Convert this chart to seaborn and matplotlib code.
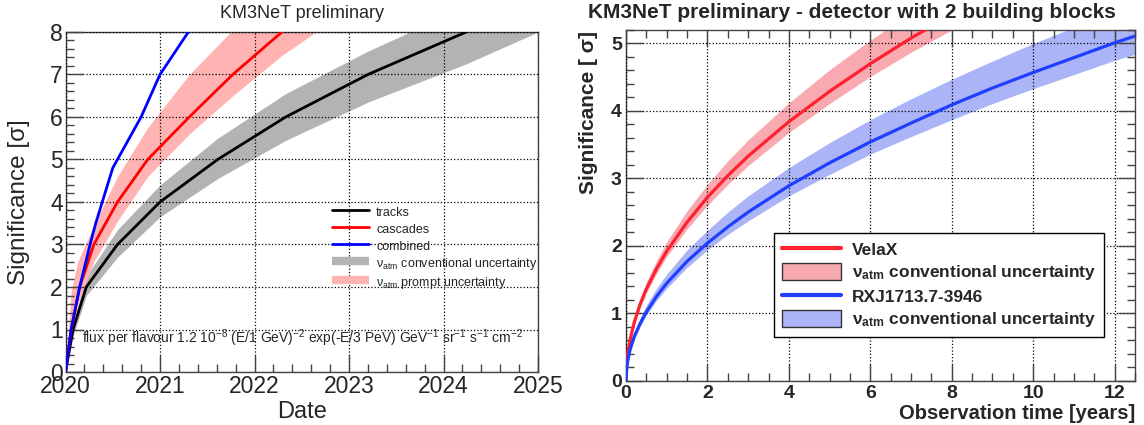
import matplotlib
matplotlib.use("Agg")
import matplotlib.pyplot as plt
from matplotlib.lines import Line2D
from matplotlib.patches import Patch
from matplotlib.ticker import MultipleLocator, FixedLocator
import seaborn as sns

# ---- left panel: significance vs date ----
tracks_year = [2020.0, 2020.08, 2020.22, 2020.55, 2021.0, 2021.61, 2022.33, 2023.2, 2024.24]
tracks_sig = [0, 1, 2, 3, 4, 5, 6, 7, 8]
tracks_band_year = [2020.0, 2020.08, 2020.22, 2020.55, 2021.0, 2021.61, 2022.33, 2023.2, 2024.24, 2025.0]
tracks_band_hi = [0, 1.15, 2.25, 3.35, 4.4, 5.5, 6.55, 7.55, 8.6, 9.2]
tracks_band_lo = [0, 0.85, 1.8, 2.7, 3.65, 4.55, 5.45, 6.35, 7.25, 8.0]

cascades_year = [2020.0, 2020.06, 2020.15, 2020.30, 2020.55, 2020.87, 2021.31, 2021.77, 2022.29]
cascades_sig = [0, 1, 2, 3, 4, 5, 6, 7, 8]
cascades_band_year = [2020.0, 2020.06, 2020.13, 2020.30, 2020.55, 2020.87, 2021.31, 2021.77, 2022.29, 2022.65]
cascades_band_hi = [0, 1.9, 2.6, 3.45, 4.6, 5.75, 7.0, 8.05, 9.0, 9.5]
cascades_band_lo = [0, 0.75, 1.6, 2.6, 3.55, 4.6, 5.6, 6.5, 7.45, 8.0]

combined_year = [2020.0, 2020.06, 2020.15, 2020.26, 2020.32, 2020.50, 2020.80, 2021.0, 2021.30]
combined_sig = [0, 1, 2, 3, 3.5, 4.8, 6, 7, 8]

years = [2020, 2021, 2022, 2023, 2024, 2025]

# ---- right panel: significance vs observation time ----
obs_t = [0, 0.02, 0.05, 0.1, 0.2, 0.35, 0.5, 0.75, 1, 1.5, 2, 2.5, 3, 4, 5, 6, 7, 8, 8.5]
velax = [0, 0.27, 0.43, 0.61, 0.86, 1.14, 1.36, 1.66, 1.92, 2.35, 2.72, 3.04, 3.33, 3.84, 4.29, 4.70, 5.08, 5.43, 5.60]
velax_hi = [0, 0.29, 0.46, 0.65, 0.92, 1.22, 1.46, 1.78, 2.06, 2.52, 2.91, 3.26, 3.57, 4.12, 4.61, 5.05, 5.45, 5.83, 6.01]
velax_lo = [0, 0.26, 0.41, 0.58, 0.82, 1.09, 1.30, 1.59, 1.84, 2.25, 2.60, 2.91, 3.19, 3.68, 4.11, 4.51, 4.87, 5.20, 5.36]

rxj_t = [0, 0.02, 0.05, 0.1, 0.2, 0.35, 0.5, 0.75, 1, 1.5, 2, 2.5, 3, 4, 5, 6, 7, 8, 9, 10, 11, 12, 12.5]
rxj = [0, 0.20, 0.32, 0.46, 0.65, 0.85, 1.02, 1.25, 1.445, 1.77, 2.04, 2.28, 2.50, 2.89, 3.23, 3.54, 3.82, 4.09, 4.34, 4.57, 4.79, 5.01, 5.11]
rxj_hi = [0, 0.22, 0.35, 0.50, 0.71, 0.93, 1.12, 1.37, 1.58, 1.94, 2.23, 2.50, 2.74, 3.16, 3.53, 3.87, 4.18, 4.47, 4.74, 5.00, 5.24, 5.47, 5.59]
rxj_lo = [0, 0.19, 0.31, 0.43, 0.61, 0.81, 0.97, 1.19, 1.37, 1.68, 1.94, 2.17, 2.37, 2.74, 3.06, 3.36, 3.62, 3.87, 4.11, 4.33, 4.54, 4.75, 4.84]

sns.set_theme(style="white")
plt.rcParams["font.family"] = ["Liberation Sans", "DejaVu Sans"]
plt.rcParams["mathtext.fontset"] = "custom"
plt.rcParams["mathtext.rm"] = "Liberation Sans"
plt.rcParams["mathtext.it"] = "Liberation Sans:italic"
plt.rcParams["mathtext.bf"] = "Liberation Sans:bold"

fig = plt.figure(figsize=(11.44, 4.25), dpi=100)
W, H = 1144, 425

ax1 = fig.add_axes([65.5 / W, 1 - 372 / H, (538 - 65.5) / W, (372 - 32) / H])
ax2 = fig.add_axes([626 / W, 1 - 380.7 / H, (1135 - 626) / W, (380.7 - 30) / H])

frame_col = "#444444"

# left panel
ax1.fill_between(tracks_band_year, tracks_band_lo, tracks_band_hi, color="#b3b3b3", lw=0, zorder=1)
ax1.fill_between(cascades_band_year, cascades_band_lo, cascades_band_hi, color="#ffb3b3", lw=0, zorder=1)
sns.lineplot(x=tracks_year, y=tracks_sig, ax=ax1, color="black", lw=2, estimator=None, sort=False, zorder=3)
sns.lineplot(x=cascades_year, y=cascades_sig, ax=ax1, color="#ff0000", lw=2, estimator=None, sort=False, zorder=3)
sns.lineplot(x=combined_year, y=combined_sig, ax=ax1, color="#0000ff", lw=2, estimator=None, sort=False, zorder=3)

ax1.set_xlim(2020, 2025)
ax1.set_ylim(0, 8)
ax1.xaxis.set_major_locator(FixedLocator(years))
ax1.set_xticklabels([str(y) for y in years])
ax1.xaxis.set_minor_locator(MultipleLocator(0.2))
ax1.yaxis.set_major_locator(MultipleLocator(1))
ax1.yaxis.set_minor_locator(MultipleLocator(0.2))
ax1.tick_params(which="both", direction="in", top=False, right=False, left=True, bottom=True,
                color=frame_col, labelsize=16.5)
ax1.tick_params(which="major", length=12, width=1, pad=2)
ax1.tick_params(which="minor", length=6, width=1)
ax1.grid(True, which="major", ls=":", color="black", lw=0.9)
ax1.set_axisbelow(False)
for s in ax1.spines.values():
    s.set_color(frame_col)
    s.set_linewidth(1)
ax1.set_xlabel("")
ax1.set_ylabel("")

ax1.text(0.034, 0.085,
         "flux per flavour 1.2 10$^{-8}$ (E/1 GeV)$^{-2}$ exp(-E/3 PeV) GeV$^{-1}$ sr$^{-1}$ s$^{-1}$ cm$^{-2}$",
         transform=ax1.transAxes, fontsize=10, va="baseline", ha="left")

# band entries drawn as thick butt-capped lines so every row has the same height
h1 = [Line2D([], [], color="black", lw=2),
      Line2D([], [], color="#ff0000", lw=2),
      Line2D([], [], color="#0000ff", lw=2),
      Line2D([], [], color="#b3b3b3", lw=6, solid_capstyle="butt"),
      Line2D([], [], color="#ffb3b3", lw=6, solid_capstyle="butt")]
l1 = ["tracks", "cascades", "combined",
      r"$\mathrm{\nu_{atm}}$ conventional uncertainty", r"$\mathrm{\nu_{atm}}$ prompt uncertainty"]
ax1.legend(h1, l1, loc="upper left", bbox_to_anchor=(331.7 / W, 1 - 204 / H),
           bbox_transform=fig.transFigure, frameon=False, fontsize=9,
           handlelength=3.0, handleheight=1.5, handletextpad=0.55,
           labelspacing=0.15, borderpad=0, borderaxespad=0)

fig.text(302 / W, 1 - 14 / H, "KM3NeT preliminary", ha="center", va="center", fontsize=13)
fig.text(19 / W, 1 - 202 / H, "Significance [σ]", rotation=90, ha="center", va="center", fontsize=17.5)
fig.text(302 / W, 1 - 412 / H, "Date", ha="center", va="center", fontsize=17)

# right panel
vela_col = "#ff2030"
rxj_col = "#1f3fff"
vela_band = "#f8aab0"
rxj_band = "#aab4f6"
ax2.fill_between(obs_t, velax_lo, velax_hi, color=vela_band, lw=0, zorder=1)
ax2.fill_between(rxj_t, rxj_lo, rxj_hi, color=rxj_band, lw=0, zorder=1)
sns.lineplot(x=obs_t, y=velax, ax=ax2, color=vela_col, lw=2.3, estimator=None, sort=False, zorder=3)
sns.lineplot(x=rxj_t, y=rxj, ax=ax2, color=rxj_col, lw=2.3, estimator=None, sort=False, zorder=3)

ax2.set_xlim(0, 12.5)
ax2.set_ylim(0, 5.2)
ax2.xaxis.set_major_locator(MultipleLocator(2))
ax2.xaxis.set_minor_locator(MultipleLocator(0.5))
ax2.yaxis.set_major_locator(MultipleLocator(1))
ax2.yaxis.set_minor_locator(MultipleLocator(0.2))
ax2.tick_params(which="both", direction="in", top=True, right=True, left=True, bottom=True,
                color=frame_col, labelsize=14)
ax2.tick_params(which="major", length=12, width=1, pad=3)
ax2.tick_params(which="minor", length=6, width=1)
for lab in ax2.get_xticklabels() + ax2.get_yticklabels():
    lab.set_fontweight("bold")
ax2.grid(True, which="major", ls=":", color="black", lw=0.9)
ax2.set_axisbelow(False)
for s in ax2.spines.values():
    s.set_color(frame_col)
    s.set_linewidth(1)
ax2.set_xlabel("")
ax2.set_ylabel("")

h2 = [Line2D([], [], color=vela_col, lw=3),
      Patch(facecolor=vela_band, edgecolor="#333333", lw=1),
      Line2D([], [], color=rxj_col, lw=3),
      Patch(facecolor=rxj_band, edgecolor="#333333", lw=1)]
l2 = ["VelaX", r"$\mathbf{\nu_{atm}}$ conventional uncertainty",
      "RXJ1713.7-3946", r"$\mathbf{\nu_{atm}}$ conventional uncertainty"]
leg2 = ax2.legend(h2, l2, loc="upper left", bbox_to_anchor=(774.3 / W, 1 - 233 / H),
                  bbox_transform=fig.transFigure, frameon=True, fancybox=False,
                  prop={"weight": "bold", "size": 12.5},
                  handlelength=3.4, handleheight=1.1, handletextpad=0.6,
                  labelspacing=0.3, borderpad=0.45, borderaxespad=0)
leg2.get_frame().set_edgecolor("black")
leg2.get_frame().set_linewidth(1)
leg2.get_frame().set_alpha(1)

fig.text(852 / W, 1 - 12 / H, "KM3NeT preliminary - detector with 2 building blocks",
         ha="center", va="center", fontsize=15, fontweight="bold")
fig.text(588 / W, 1 - 31 / H, "Significance [ σ]", rotation=90, ha="center", va="top",
         fontsize=15, fontweight="bold")
fig.text(1135 / W, 1 - 419 / H, "Observation time [years]", ha="right", va="baseline",
         fontsize=14.5, fontweight="bold")

fig.savefig("out.png", dpi=100)
